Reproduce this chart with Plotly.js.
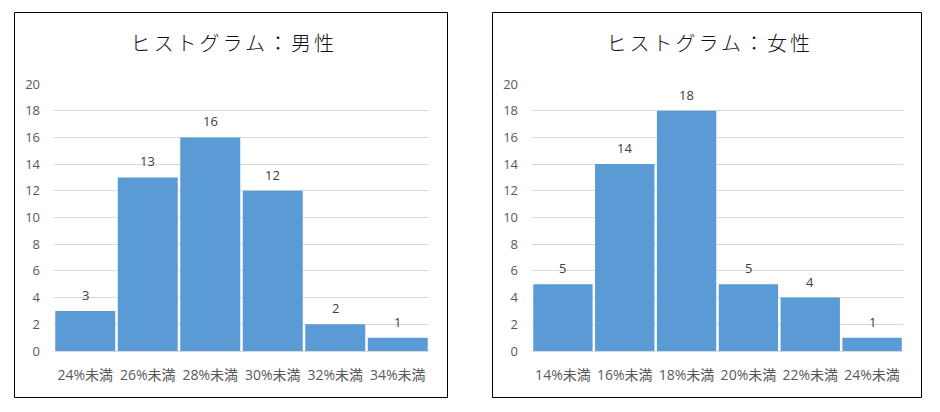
<!DOCTYPE html>
<html>
<head>
<meta charset="utf-8">
<script src="https://cdn.plot.ly/plotly-3.0.1.min.js"></script>
<style>
html,body{margin:0;padding:0;background:#fff;}
#chart{width:940px;height:412px;}
</style>
</head>
<body>
<div id="chart"></div>
<script>
const maleCategories = ["24%未満","26%未満","28%未満","30%未満","32%未満","34%未満"];
const maleCounts = [3,13,16,12,2,1];
const femaleCategories = ["14%未満","16%未満","18%未満","20%未満","22%未満","24%未満"];
const femaleCounts = [5,14,18,5,4,1];
const maleTitle = "ヒストグラム：男性";
const femaleTitle = "ヒストグラム：女性";
const yTicks = [0,2,4,6,8,10,12,14,16,18,20];

const W = 940, H = 412;
const px = v => v / W;
const py = v => 1 - v / H;

const barColor = "#5B9BD5";
const font = "'Noto Sans CJK JP', 'Noto Sans', sans-serif";
const numFont = "'Open Sans', 'Noto Sans CJK JP', sans-serif";

const traces = [
  {type:"bar", x:maleCategories, y:maleCounts, xaxis:"x", yaxis:"y",
   marker:{color:barColor, line:{width:0}}, hoverinfo:"none"},
  {type:"bar", x:femaleCategories, y:femaleCounts, xaxis:"x2", yaxis:"y2",
   marker:{color:barColor, line:{width:0}}, hoverinfo:"none"}
];

function xAxis(domain, anchor){
  return {domain:domain, anchor:anchor, type:"category", showgrid:false, zeroline:false,
    showline:false, ticks:"", tickfont:{family:numFont, size:14, color:"#595959"}, ticklabelstandoff:14, fixedrange:true};
}
function yAxis(domain, anchor){
  return {domain:domain, anchor:anchor, range:[0,20], tickvals:yTicks, showgrid:true, gridcolor:"#D9D9D9",
    gridwidth:1, zeroline:true, zerolinecolor:"#D9D9D9", zerolinewidth:1, showline:false, ticks:"",
    tickfont:{family:numFont, size:13, color:"#595959"}, ticklabelstandoff:13, fixedrange:true};
}

const annotations = [];
maleCategories.forEach((c,i)=>annotations.push({x:c, y:maleCounts[i], xref:"x", yref:"y", text:String(maleCounts[i]),
  showarrow:false, yshift:16, font:{family:numFont, size:13, color:"#404040"}}));
femaleCategories.forEach((c,i)=>annotations.push({x:c, y:femaleCounts[i], xref:"x2", yref:"y2", text:String(femaleCounts[i]),
  showarrow:false, yshift:16, font:{family:numFont, size:13, color:"#404040"}}));
annotations.push({x:px(233.5), y:py(43), xref:"paper", yref:"paper", text:maleTitle, showarrow:false,
  xanchor:"center", yanchor:"middle", font:{family:font, size:20, color:"#111", weight:300}});
annotations.push({x:px(709.5), y:py(43), xref:"paper", yref:"paper", text:femaleTitle, showarrow:false,
  xanchor:"center", yanchor:"middle", font:{family:font, size:20, color:"#111", weight:300}});

const shapes = [
  {type:"rect", xref:"paper", yref:"paper", x0:px(14.5), x1:px(447.5), y0:py(12.5), y1:py(397.5), line:{color:"#000", width:1}},
  {type:"rect", xref:"paper", yref:"paper", x0:px(492.5), x1:px(921.5), y0:py(12.5), y1:py(397.5), line:{color:"#000", width:1}}
];

const layout = {
  width:W, height:H, margin:{l:0,r:0,t:0,b:0}, paper_bgcolor:"#fff", plot_bgcolor:"rgba(0,0,0,0)",
  showlegend:false, bargap:0.04,
  xaxis:xAxis([px(54), px(429)], "y"),
  yaxis:yAxis([py(351), py(84)], "x"),
  xaxis2:xAxis([px(532), px(903)], "y2"),
  yaxis2:yAxis([py(351), py(84)], "x2"),
  annotations:annotations, shapes:shapes, font:{family:font}
};

Plotly.newPlot("chart", traces, layout, {staticPlot:true, displayModeBar:false}).then(()=>{
  document.querySelectorAll("#chart .annotation-text").forEach(t=>{
    if (t.textContent.indexOf("ヒストグラム") === 0) t.style.letterSpacing = "3px";
  });
});
</script>
</body>
</html>
